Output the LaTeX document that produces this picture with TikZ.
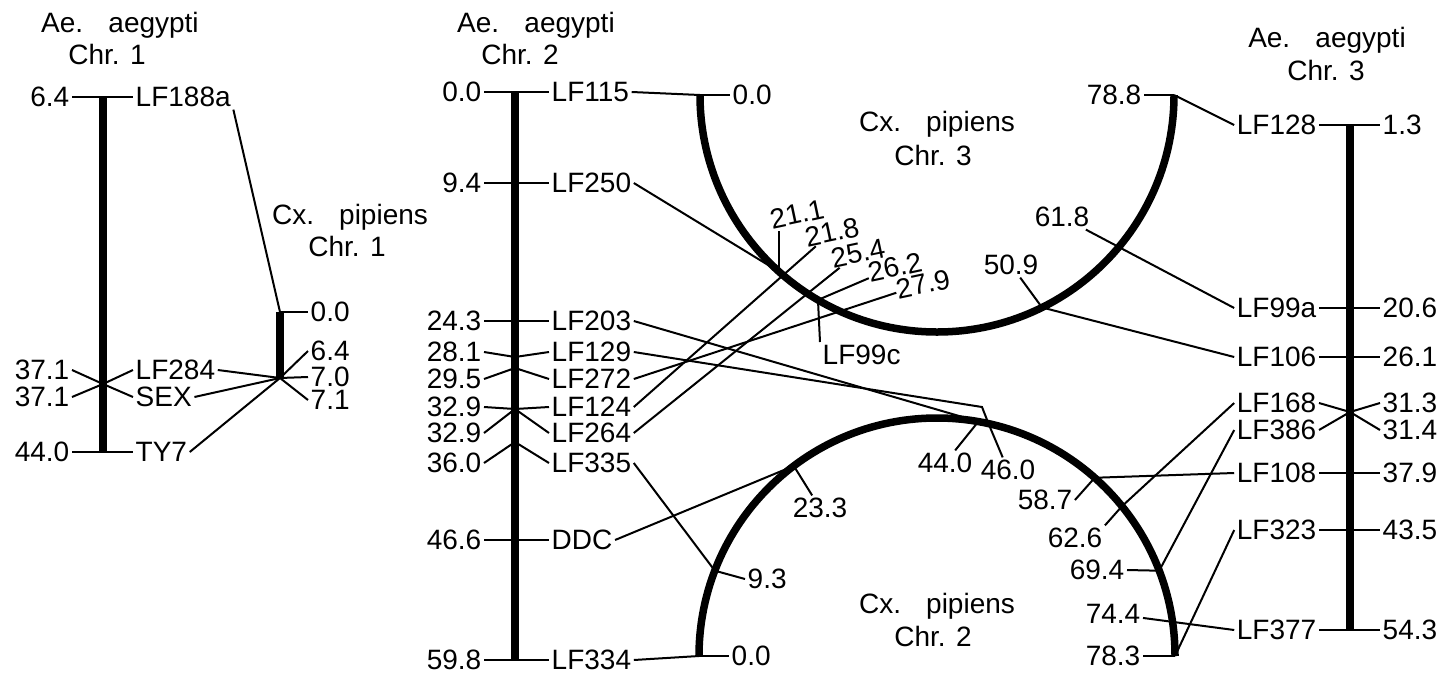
\documentclass[tikz,border=0pt]{standalone}
\usepackage{fontspec}
\setmainfont{Liberation Sans}
\begin{document}
\begin{tikzpicture}[x=1pt,y=-1pt,
  every node/.style={font=\fontsize{28}{32}\selectfont},
  lbl/.style={inner sep=2.5pt},
  tilt/.style={inner sep=0.5pt,rotate=12},
  ttl/.style={inner sep=0pt,anchor=base},
  chrom/.style={line width=7.5pt},
  link/.style={line width=2pt},
  tick/.style={line width=2pt}]
\useasboundingbox (0,0) rectangle (1444,673);

% ---------------- titles ----------------
\node[ttl] (t1a) at (120,32) {Ae.\hspace{0.9em}aegypti};
\node[ttl] (t1b) at (107,64) {Chr. 1};
\node[ttl] (tc1a) at (350,224) {Cx.\hspace{0.9em}pipiens};
\node[ttl] (tc1b) at (347,256) {Chr. 1};
\node[ttl] (t2a) at (536,32) {Ae.\hspace{0.9em}aegypti};
\node[ttl] (t2b) at (520,64) {Chr. 2};
\node[ttl] (tc3a) at (937,131) {Cx.\hspace{0.9em}pipiens};
\node[ttl] (tc3b) at (933,165) {Chr. 3};
\node[ttl] (tc2a) at (937,613) {Cx.\hspace{0.9em}pipiens};
\node[ttl] (tc2b) at (933,646) {Chr. 2};
\node[ttl] (t3a) at (1327,47) {Ae.\hspace{0.9em}aegypti};
\node[ttl] (t3b) at (1326,80) {Chr. 3};

% ---------------- Ae. aegypti chromosome 1 ----------------
\coordinate (a1top) at (103,97);
\coordinate (a1bot) at (103,452);
\coordinate (a1x) at (103,384);
\draw[chrom] (a1top) -- (a1bot);
\node[lbl,anchor=east] (a1l64) at (72,97) {6.4};
\node[lbl,anchor=west] (a1lf188a) at (133,97) {LF188a};
\draw[tick] (a1l64.east) -- (a1lf188a.west);
\node[lbl,anchor=east] (a1l371a) at (72,370) {37.1};
\node[lbl,anchor=east] (a1l371b) at (72,397) {37.1};
\node[lbl,anchor=west] (a1lf284) at (133,370) {LF284};
\node[lbl,anchor=west] (a1sex) at (133,397) {SEX};
\draw[tick] (a1l371a.east) -- (a1x) -- (a1sex.west);
\draw[tick] (a1l371b.east) -- (a1x) -- (a1lf284.west);
\node[lbl,anchor=east] (a1l440) at (72,452) {44.0};
\node[lbl,anchor=west] (a1ty7) at (133,452) {TY7};
\draw[tick] (a1l440.east) -- (a1ty7.west);

% ---------------- Cx. pipiens chromosome 1 ----------------
\coordinate (c1top) at (280,312);
\coordinate (c1bot) at (280,378);
\draw[chrom] (c1top) -- (c1bot);
\node[lbl,anchor=west] (c1l00) at (308,312) {0.0};
\node[lbl,anchor=west] (c1l64) at (308,351) {6.4};
\node[lbl,anchor=west] (c1l70) at (308,377) {7.0};
\node[lbl,anchor=west] (c1l71) at (308,400) {7.1};
\draw[tick] (c1top) -- (c1l00.west);
\draw[tick] (c1bot) -- (c1l64.west);
\draw[tick] (c1bot) -- (c1l70.west);
\draw[tick] (c1bot) -- (c1l71.west);

\draw[link] (a1lf188a.south east) -- (c1top);
\draw[link] (a1lf284.east) -- (c1bot);
\draw[link] (a1sex.east) -- (c1bot);
\draw[link] (a1ty7.east) -- (c1bot);

% ---------------- Ae. aegypti chromosome 2 ----------------
\coordinate (a2top) at (515,92);
\coordinate (a2bot) at (515,660);
\draw[chrom] (a2top) -- (a2bot);
\coordinate (a2x281) at (515,357);
\coordinate (a2x295) at (515,368);
\coordinate (a2x329) at (515,409);
\coordinate (a2x360) at (515,442);

\node[lbl,anchor=east] (a2l00) at (484,92) {0.0};
\node[lbl,anchor=west] (a2lf115) at (549,92) {LF115};
\draw[tick] (a2l00.east) -- (a2lf115.west);
\node[lbl,anchor=east] (a2l94) at (484,183) {9.4};
\node[lbl,anchor=west] (a2lf250) at (549,183) {LF250};
\draw[tick] (a2l94.east) -- (a2lf250.west);
\node[lbl,anchor=east] (a2l243) at (484,321) {24.3};
\node[lbl,anchor=west] (a2lf203) at (549,321) {LF203};
\draw[tick] (a2l243.east) -- (a2lf203.west);
\node[lbl,anchor=east] (a2l281) at (484,352) {28.1};
\node[lbl,anchor=west] (a2lf129) at (549,352) {LF129};
\draw[tick] (a2l281.east) -- (a2x281) -- (a2lf129.west);
\node[lbl,anchor=east] (a2l295) at (484,379) {29.5};
\node[lbl,anchor=west] (a2lf272) at (549,379) {LF272};
\draw[tick] (a2l295.east) -- (a2x295) -- (a2lf272.west);
\node[lbl,anchor=east] (a2l329a) at (484,407) {32.9};
\node[lbl,anchor=west] (a2lf124) at (549,407) {LF124};
\node[lbl,anchor=east] (a2l329b) at (484,433) {32.9};
\node[lbl,anchor=west] (a2lf264) at (549,433) {LF264};
\draw[tick] (a2l329a.east) -- (a2x329) -- (a2lf124.west);
\draw[tick] (a2l329b.east) -- (a2x329) -- (a2lf264.west);
\node[lbl,anchor=east] (a2l360) at (484,463) {36.0};
\node[lbl,anchor=west] (a2lf335) at (549,463) {LF335};
\draw[tick] (a2l360.east) -- (a2x360) -- (a2lf335.west);
\node[lbl,anchor=east] (a2l466) at (484,540) {46.6};
\node[lbl,anchor=west] (a2ddc) at (549,540) {DDC};
\draw[tick] (a2l466.east) -- (a2ddc.west);
\node[lbl,anchor=east] (a2l598) at (484,660) {59.8};
\node[lbl,anchor=west] (a2lf334) at (549,660) {LF334};
\draw[tick] (a2l598.east) -- (a2lf334.west);

% ---------------- Cx. pipiens chromosome 3 (lower half circle) ----------------
\coordinate (c3c) at (937,95);
\draw[chrom] (c3c) ++(180:237) arc[start angle=180,end angle=0,radius=237];
\path (c3c) ++(180:237) coordinate (c3p00);
\path (c3c) ++(131.8:237) coordinate (c3p211);
\path (c3c) ++(120.15:237) coordinate (c3p262);
\path (c3c) ++(63.7:237) coordinate (c3p509);
\path (c3c) ++(0:237) coordinate (c3p788);

\node[lbl,anchor=west] (c3l00) at (730,95) {0.0};
\draw[tick] (c3p00) -- (c3l00.west);
\node[tilt] (c3l211) at (797,214) {21.1};
\draw[tick] (c3p211) -- ++(0,-41) coordinate (c3q211);
\node[tilt] (c3l218) at (832,232) {21.8};
\node[tilt] (c3l254) at (858,253) {25.4};
\node[tilt] (c3l262) at (895,267) {26.2};
\node[tilt] (c3l279) at (923,284) {27.9};
\draw[tick] (c3p262) -- (c3l262);
\node[lbl,anchor=north west] (c3lf99c) at (820,342) {LF99c};
\draw[tick] (c3p262) -- (c3lf99c.north west);
\node[lbl] (c3l509) at (1011,265) {50.9};
\draw[tick] (c3p509) -- (c3l509);
\node[lbl] (c3l618) at (1062,217) {61.8};
\node[lbl,anchor=east] (c3l788) at (1144,95) {78.8};
\draw[tick] (c3l788.east) -- (c3p788);

% ---------------- Cx. pipiens chromosome 2 (upper half circle) ----------------
\coordinate (c2c) at (937,656);
\draw[chrom] (c2c) ++(180:238) arc[start angle=180,end angle=360,radius=238];
\path (c2c) ++(180:238) coordinate (c2p00);
\path (c2c) ++(201:238) coordinate (c2p93);
\path (c2c) ++(233:238) coordinate (c2p233);
\path (c2c) ++(280:238) coordinate (c2p440);
\path (c2c) ++(282.5:238) coordinate (c2p460);
\path (c2c) ++(311.5:238) coordinate (c2p587);
\path (c2c) ++(321:238) coordinate (c2p626);
\path (c2c) ++(339:238) coordinate (c2p694);
\path (c2c) ++(360:238) coordinate (c2p783);

\node[lbl,anchor=west] (c2l00) at (729,656) {0.0};
\draw[tick] (c2p00) -- (c2l00.west);
\node[lbl,anchor=west] (c2l93) at (745,579) {9.3};
\draw[tick] (c2p93) -- (c2l93.west);
\node[lbl] (c2l233) at (820,508) {23.3};
\draw[tick] (c2p233) -- (c2l233);
\node[lbl] (c2l440) at (945,463) {44.0};
\draw[tick] (c2p440) -- (c2l440);
\node[lbl] (c2l460) at (1008,470) {46.0};
\draw[tick] (c2p460) -- (c2l460);
\node[lbl] (c2l587) at (1045,500) {58.7};
\draw[tick] (c2p587) -- (c2l587.east);
\node[lbl] (c2l626) at (1075,538) {62.6};
\draw[tick] (c2p626) -- (c2l626.north east);
\node[lbl,anchor=east] (c2l694) at (1127,570) {69.4};
\draw[tick] (c2p694) -- (c2l694.east);
\node[lbl,anchor=east] (c2l744) at (1143,614) {74.4};
\node[lbl,anchor=east] (c2l783) at (1143,656) {78.3};
\draw[tick] (c2l783.east) -- (c2p783);

% ---------------- Ae. aegypti chromosome 3 ----------------
\coordinate (a3top) at (1350,125);
\coordinate (a3bot) at (1350,630);
\draw[chrom] (a3top) -- (a3bot);
\coordinate (a3x31) at (1350,412);
\node[lbl,anchor=east] (a3lf128) at (1319,125) {LF128};
\node[lbl,anchor=west] (a3l13) at (1380,125) {1.3};
\draw[tick] (a3lf128.east) -- (a3l13.west);
\node[lbl,anchor=east] (a3lf99a) at (1319,308) {LF99a};
\node[lbl,anchor=west] (a3l206) at (1380,308) {20.6};
\draw[tick] (a3lf99a.east) -- (a3l206.west);
\node[lbl,anchor=east] (a3lf106) at (1319,357) {LF106};
\node[lbl,anchor=west] (a3l261) at (1380,357) {26.1};
\draw[tick] (a3lf106.east) -- (a3l261.west);
\node[lbl,anchor=east] (a3lf168) at (1319,403) {LF168};
\node[lbl,anchor=west] (a3l313) at (1380,403) {31.3};
\node[lbl,anchor=east] (a3lf386) at (1319,430) {LF386};
\node[lbl,anchor=west] (a3l314) at (1380,430) {31.4};
\draw[tick] (a3lf168.east) -- (a3x31) -- (a3l314.west);
\draw[tick] (a3lf386.east) -- (a3x31) -- (a3l313.west);
\node[lbl,anchor=east] (a3lf108) at (1319,473) {LF108};
\node[lbl,anchor=west] (a3l379) at (1380,473) {37.9};
\draw[tick] (a3lf108.east) -- (a3l379.west);
\node[lbl,anchor=east] (a3lf323) at (1319,530) {LF323};
\node[lbl,anchor=west] (a3l435) at (1380,530) {43.5};
\draw[tick] (a3lf323.east) -- (a3l435.west);
\node[lbl,anchor=east] (a3lf377) at (1319,630) {LF377};
\node[lbl,anchor=west] (a3l543) at (1380,630) {54.3};
\draw[tick] (a3lf377.east) -- (a3l543.west);

% ---------------- homology links ----------------
\coordinate (k129) at (982,407);
\draw[link] (a2lf115.east) -- (c3p00);
\draw[link] (a2lf250.east) -- (c3p211);
\draw[link] (a2lf203.east) -- (c2p440);
\draw[link] (a2lf129.east) -- (k129) -- (c2p460);
\draw[link] (a2lf272.east) -- (c3l279);
\draw[link] (a2lf124.east) -- (c3l218);
\draw[link] (a2lf264.east) -- (c3l254);
\draw[link] (a2lf335.east) -- (c2p93);
\draw[link] (a2ddc.east) -- (c2p233);
\draw[link] (a2lf334.east) -- (c2p00);

\draw[link] (c3p788) -- (a3lf128.west);
\draw[link] (c3l618) -- (a3lf99a.west);
\draw[link] (c3p509) -- (a3lf106.west);
\draw[link] (a3lf168.west) -- (c2p626);
\draw[link] (a3lf386.west) -- (c2p694);
\draw[link] (a3lf108.west) -- (c2p587);
\draw[link] (a3lf323.west) -- (c2p783);
\draw[link] (c2l744) -- (a3lf377.west);
\end{tikzpicture}
\end{document}
